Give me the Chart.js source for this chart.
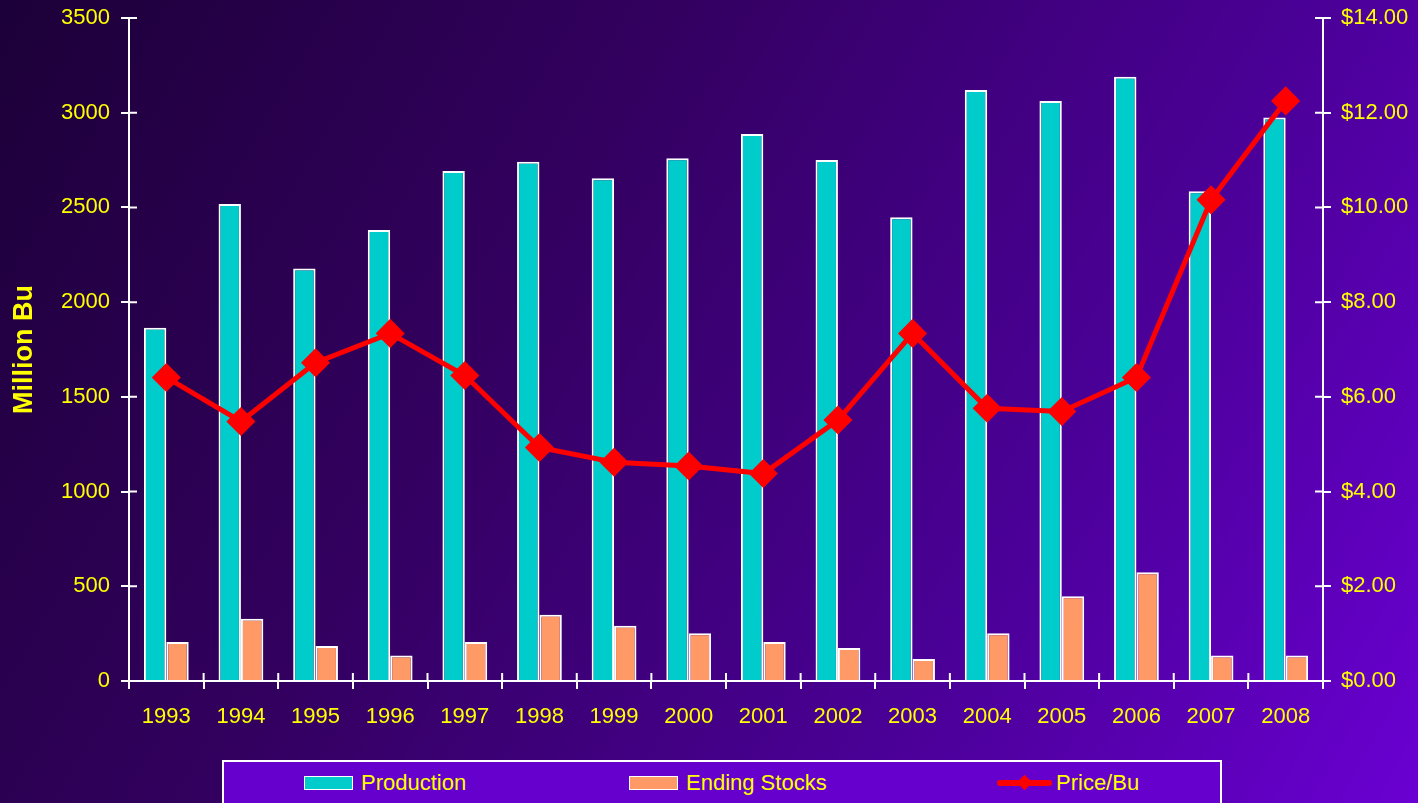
<!DOCTYPE html>
<html>
<head>
<meta charset="utf-8">
<script src="https://cdn.jsdelivr.net/npm/chart.js@4.4.0/dist/chart.umd.min.js"></script>
<style>
  html, body { margin: 0; padding: 0; }
  body {
    width: 1418px; height: 803px; overflow: hidden; position: relative;
    background: linear-gradient(120deg, #1c0038 0%, #32005e 35%, #4a0096 70%, #6a00d2 100%);
    font-family: "Liberation Sans", Arial, sans-serif;
  }
  #wrap { position: absolute; left: 0; top: 0; width: 1418px; height: 803px; }
  #legend {
    position: absolute; left: 222px; top: 760px; width: 996px; height: 60px;
    border: 2px solid #fff; background: #6600cc;
  }
  .item { position: absolute; top: 9px; height: 24px; display: flex; align-items: center;
    color: #ffff00; font-size: 22px; }
  .swatch { width: 47px; height: 12px; border: 1.5px solid #fff; margin-right: 8px; }
  .lineicon { position: relative; width: 55px; height: 16px; margin-right: 4px; }
  .lineicon .bar { position: absolute; left: 0; right: 0; top: 5px; height: 6px; background: #ff0000; border-radius: 3px; }
  .lineicon .dia { position: absolute; left: 22px; top: 2px; width: 11px; height: 11px; background: #ff0000; transform: rotate(45deg); }
</style>
</head>
<body>
<div id="wrap"><canvas id="soy"></canvas></div>
<div id="legend"></div>
<script>
var years = ["1993","1994","1995","1996","1997","1998","1999","2000","2001","2002","2003","2004","2005","2006","2007","2008"];
var production = [1865,2518,2177,2381,2692,2741,2654,2759,2888,2750,2448,3120,3062,3190,2585,2975];
var endingStocks = [206,329,185,134,206,350,292,252,206,174,116,252,447,574,134,134];
var price = [6.41,5.48,6.72,7.34,6.45,4.93,4.62,4.54,4.38,5.51,7.34,5.76,5.69,6.41,10.16,12.25];

var yellow = "#ffff00";
var tickFont = { family: "'Liberation Sans', Arial, sans-serif", size: 22 };

// draws the inner half of each axis tick so they cross the axis line
var crossTicks = {
  id: 'crossTicks',
  afterDatasetsDraw: function(chart) {
    var ctx = chart.ctx, a = chart.chartArea, len = 8;
    ctx.save();
    ctx.strokeStyle = '#fff';
    ctx.lineWidth = 2;
    ctx.beginPath();
    var y = chart.scales.y, y1 = chart.scales.y1, x = chart.scales.x;
    y.ticks.forEach(function(t, i) {
      var p = y.getPixelForTick(i);
      ctx.moveTo(a.left, p); ctx.lineTo(a.left + len, p);
    });
    y1.ticks.forEach(function(t, i) {
      var p = y1.getPixelForTick(i);
      ctx.moveTo(a.right, p); ctx.lineTo(a.right - len, p);
    });
    for (var i = 0; i <= x.ticks.length; i++) {
      var px = x.getPixelForValue(i - 0.5);
      ctx.moveTo(px, a.bottom); ctx.lineTo(px, a.bottom - len);
    }
    ctx.stroke();
    ctx.restore();
  }
};

function fitVertical(width) {
  return function(s) {
    s.width = width;
    s.paddingTop = 0;
    s.paddingBottom = 0;
  };
}

var ctx = document.getElementById("soy").getContext("2d");
var chart = new Chart(ctx, {
  type: 'bar',
  data: {
    labels: years,
    datasets: [
      {
        type: 'line',
        label: 'Price/Bu',
        data: price,
        yAxisID: 'y1',
        borderColor: '#ff0000',
        backgroundColor: '#ff0000',
        borderWidth: 5,
        pointStyle: 'rectRot',
        pointRadius: 11,
        pointBackgroundColor: '#ff0000',
        pointBorderColor: '#ff0000',
        tension: 0,
        order: 0
      },
      {
        label: 'Production',
        data: production,
        yAxisID: 'y',
        backgroundColor: '#00cccc',
        borderColor: '#ffffff',
        borderWidth: 2,
        categoryPercentage: 0.6,
        barPercentage: 1.0,
        order: 1
      },
      {
        label: 'Ending Stocks',
        data: endingStocks,
        yAxisID: 'y',
        backgroundColor: '#ff9966',
        borderColor: '#ffffff',
        borderWidth: 2,
        categoryPercentage: 0.6,
        barPercentage: 1.0,
        order: 1
      }
    ]
  },
  options: {
    responsive: true,
    maintainAspectRatio: false,
    animation: false,
    layout: { padding: { top: 18, left: 0, right: 0, bottom: 0 } },
    plugins: {
      legend: { display: false },
      tooltip: { enabled: false }
    },
    scales: {
      x: {
        grid: { drawOnChartArea: false, color: '#fff', lineWidth: 2, tickLength: 8, offset: true },
        border: { color: '#fff', width: 2 },
        ticks: { color: yellow, font: tickFont, padding: 15, maxRotation: 0 },
        afterFit: function(s) { s.height = 122; s.paddingLeft = 0; s.paddingRight = 0; }
      },
      y: {
        position: 'left',
        min: 0,
        max: 3500,
        ticks: {
          stepSize: 500, color: yellow, font: tickFont, padding: 11,
          callback: function(v) { return String(v); }
        },
        grid: { drawOnChartArea: false, color: '#fff', lineWidth: 2, tickLength: 8 },
        border: { color: '#fff', width: 2 },
        title: {
          display: true,
          text: 'Million Bu',
          color: yellow,
          font: { family: "'Liberation Sans', Arial, sans-serif", size: 27, weight: 'bold' },
          padding: { top: 8, bottom: 0 }
        },
        afterFit: fitVertical(129)
      },
      y1: {
        position: 'right',
        min: 0,
        max: 14,
        ticks: {
          stepSize: 2, color: yellow, font: tickFont, padding: 10,
          callback: function(v) { return '$' + Number(v).toFixed(2); }
        },
        grid: { drawOnChartArea: false, color: '#fff', lineWidth: 2, tickLength: 8 },
        border: { color: '#fff', width: 2 },
        afterFit: fitVertical(95)
      }
    }
  },
  plugins: [crossTicks]
});

// html legend built from the datasets
var legend = document.getElementById("legend");
var slots = { 'Production': 80, 'Ending Stocks': 405, 'Price/Bu': 773 };
chart.data.datasets.forEach(function(ds) {
  var item = document.createElement('div');
  item.className = 'item';
  item.style.left = slots[ds.label] + 'px';
  var icon = document.createElement('div');
  if (ds.type === 'line') {
    icon.className = 'lineicon';
    icon.innerHTML = '<div class="bar"></div><div class="dia"></div>';
  } else {
    icon.className = 'swatch';
    icon.style.background = ds.backgroundColor;
  }
  item.appendChild(icon);
  var txt = document.createElement('span');
  txt.textContent = ds.label;
  item.appendChild(txt);
  legend.appendChild(item);
});
</script>
</body>
</html>
